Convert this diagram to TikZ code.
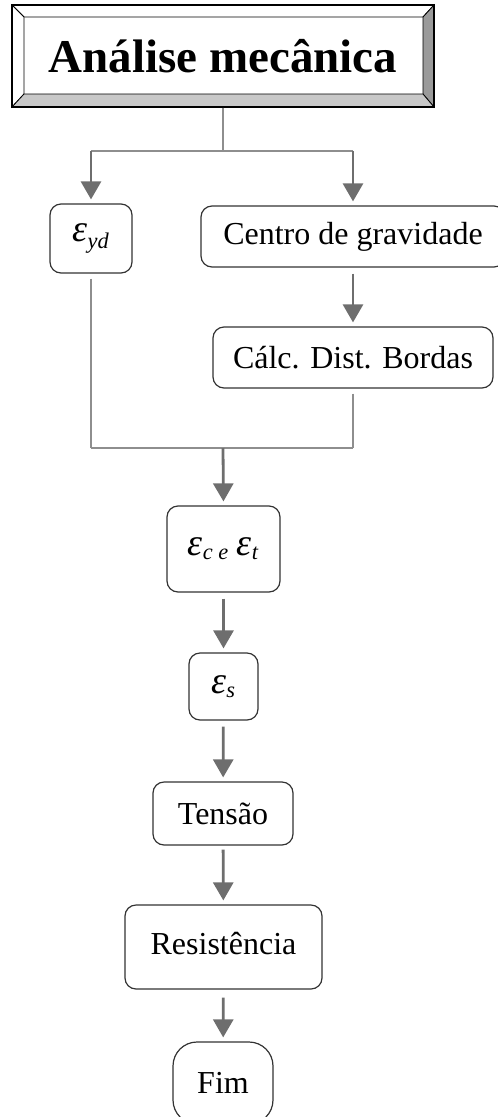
\documentclass[tikz,border=0pt]{standalone}
\usepackage{fontspec}
\setmainfont{Liberation Serif}
\usetikzlibrary{arrows.meta}
\definecolor{linkgray}{HTML}{8E8E8E}
\definecolor{arrowgray}{HTML}{6E6E6E}
\definecolor{bevelgray}{HTML}{9A9A9A}
\definecolor{bevellight}{HTML}{C8C8C8}
\newcommand{\epsub}[1]{{\fontsize{38}{40}\selectfont\textit{ε}}\textsubscript{\textit{#1}}}
\tikzset{
	box/.style={draw=black!80, line width=1.2pt, rounded corners=11pt, inner sep=0pt, font=\fontsize{32}{36}\selectfont},
	link/.style={draw=linkgray, line width=1.5pt},
	flow/.style={draw=arrowgray, line width=2.8pt, -{Triangle[width=20pt,length=18pt]}, shorten >=4pt}
}

\begin{document}
\begin{tikzpicture}[x=1pt, y=-1pt]
			\useasboundingbox (0,0) rectangle (498,1117);
			\clip (0,0) rectangle (498,1117);
			\draw[line width=0.8pt, fill=white] (12,5) -- (434,5) -- (423,17) -- (24,17) -- cycle;
			\draw[line width=0.8pt, fill=white] (12,5) -- (24,17) -- (24,94) -- (12,107) -- cycle;
			\draw[line width=0.8pt, fill=bevelgray] (434,5) -- (434,107) -- (423,94) -- (423,17) -- cycle;
			\draw[line width=0.8pt, fill=bevellight] (12,107) -- (434,107) -- (423,94) -- (24,94) -- cycle;
			\node[draw, line width=1.2pt, minimum width=422pt, minimum height=102pt, inner sep=0pt, font=\fontsize{47}{50}\selectfont\bfseries] (title) at (223,56) {Análise mecânica};
			\node[box, minimum width=82pt, minimum height=69pt] (eyd) at (91,238.5) {\epsub{yd}};
			\node[box, minimum width=304pt, minimum height=61pt] (cg) at (353,236.5) {Centro de gravidade};
			\node[box, minimum width=280pt, minimum height=61pt] (cdb) at (353,357.5) {Cálc. Dist. Bordas};
			\node[box, minimum width=113pt, minimum height=86pt] (ecet) at (223.5,549) {\epsub{c e} \epsub{t}};
			\node[box, minimum width=69pt, minimum height=67pt] (es) at (223.5,686.5) {\epsub{s}};
			\node[box, minimum width=140pt, minimum height=63pt] (tensao) at (223,813.5) {Tensão};
			\node[box, minimum width=197pt, minimum height=84pt] (resist) at (223.5,947) {\raisebox{7pt}{Resistência}};
			\node[box, rounded corners=24pt, minimum width=100pt, minimum height=82pt] (fim) at (223,1083) {Fim};
			\coordinate (split) at (223,151);
			\coordinate (merge) at (223,448);
			\draw[link] (title.south) -- (split);
			\draw[link] (eyd.north |- split) -- (cg.north |- split);
			\draw[flow] (eyd.north |- split) -- (eyd.north);
			\draw[flow] (cg.north |- split) -- (cg.north);
			\draw[flow, shorten <=6pt] (cg) -- (cdb);
			\draw[link, shorten <=5pt] (eyd.south) -- (eyd.south |- merge);
			\draw[link, shorten <=5pt] (cdb.south) -- (cdb.south |- merge);
			\draw[link] (eyd.south |- merge) -- (cdb.south |- merge);
			\draw[flow] (merge) -- (ecet.north);
			\draw[flow, shorten <=6pt] (ecet) -- (es);
			\draw[flow, shorten <=6pt] (es) -- (tensao);
			\draw[flow, shorten <=4pt] (tensao) -- (resist);
			\draw[flow, shorten <=8pt] (resist) -- (fim);
		\end{tikzpicture}
\end{document}
